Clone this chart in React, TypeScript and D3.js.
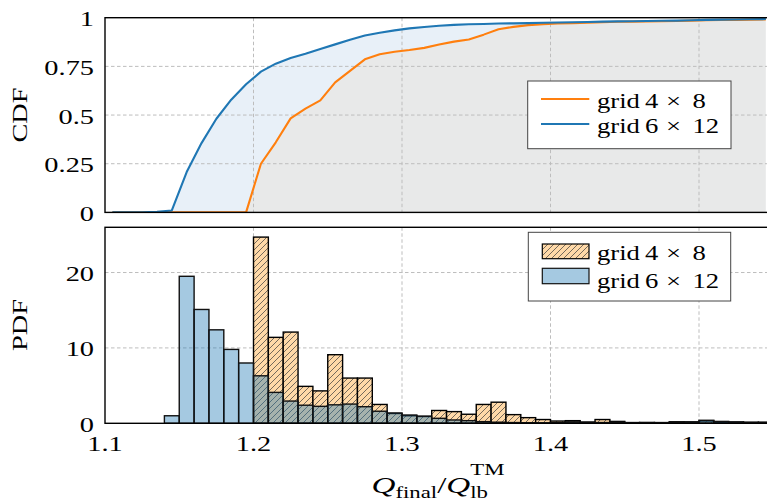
import React from "react";
import * as d3 from "d3";

// ---- data ----
const binStarts: number[] = d3.range(110, 155).map((v) => v / 100); // 1.10 .. 1.54, width 0.01
const binWidth = 0.01;

const pdfGrid4x8: number[] = [
  0, 0, 0, 0, 0, 0, 0, 0, 0, 0,
  24.7, 11.4, 12.1, 4.9, 4.3, 9.1, 6.0, 6.0, 2.5, 1.3,
  1.0, 0.9, 1.7, 1.55, 1.2, 2.5, 2.8, 1.15, 0.75, 0.5,
  0.3, 0.35, 0.15, 0.5, 0.25, 0.1, 0.1, 0.05, 0.2, 0.15,
  0.3, 0.15, 0.1, 0.1, 0.1,
];
const pdfGrid6x12: number[] = [
  0, 0, 0, 0, 1.0, 19.5, 15.1, 12.4, 9.8, 8.0,
  6.3, 4.1, 2.95, 2.4, 2.25, 2.45, 2.55, 2.2, 1.6, 1.37,
  1.1, 0.95, 0.66, 0.44, 0.35, 0.22, 0.15, 0.1, 0.08, 0.06,
  0.1, 0.2, 0.15, 0.1, 0.15, 0.05, 0.1, 0.1, 0.15, 0.2,
  0.4, 0.25, 0.2, 0.15, 0.15,
];
const cdfGrid4x8: number[] = [
  0, 0, 0, 0, 0, 0, 0, 0, 0, 0,
  0.25, 0.36, 0.483, 0.533, 0.575, 0.668, 0.727, 0.786, 0.812, 0.825,
  0.834, 0.845, 0.862, 0.877, 0.888, 0.913, 0.941, 0.953, 0.962, 0.967,
  0.970, 0.972, 0.974, 0.977, 0.979, 0.980, 0.981, 0.982, 0.983, 0.985,
  0.987, 0.988, 0.989, 0.990, 0.991,
];
const cdfGrid6x12: number[] = [
  0, 0, 0, 0.003, 0.01, 0.207, 0.356, 0.481, 0.579, 0.658,
  0.723, 0.764, 0.793, 0.815, 0.839, 0.863, 0.887, 0.909, 0.923, 0.935,
  0.945, 0.952, 0.959, 0.963, 0.966, 0.968, 0.970, 0.971, 0.972, 0.974,
  0.975, 0.977, 0.978, 0.980, 0.981, 0.982, 0.983, 0.984, 0.985, 0.987,
  0.989, 0.990, 0.991, 0.992, 0.993,
];
const xTicks: number[] = [1.1, 1.2, 1.3, 1.4, 1.5];
const xTickLabels: string[] = ["1.1", "1.2", "1.3", "1.4", "1.5"];
const cdfTicks: number[] = [0, 0.25, 0.5, 0.75, 1];
const cdfTickLabels: string[] = ["0", "0.25", "0.5", "0.75", "1"];
const pdfTicks: number[] = [0, 10, 20];
const pdfTickLabels: string[] = ["0", "10", "20"];
// legend label pieces: "grid a × b"
const seriesGridA: string[] = ["4", "6"];
const seriesGridB: string[] = ["8", "12"];

// ---- style ----
const ORANGE = "#ff7f0e";
const BLUE = "#1f77b4";
const FONT = "'Liberation Serif', 'Times New Roman', serif";
const FS = 21.5;
const SX = 1.32;
const GRID = "#bdbdbd";

const W = 767;
const H = 502;
const L = 105;
const R = 773.25;

const x = d3.scaleLinear().domain([1.1, 1.55]).range([L, R]);
const yTop = d3.scaleLinear().domain([0, 1]).range([212.4, 17.7]);
const yBot = d3.scaleLinear().domain([0, 26]).range([423.3, 227.3]);

function T(props: {
  x: number;
  y: number;
  anchor?: string;
  size?: number;
  sx?: number;
  rotate?: boolean;
  children: React.ReactNode;
}) {
  const { x: tx, y: ty, anchor = "start", size = FS, sx = SX, rotate = false, children } = props;
  const tr = rotate
    ? `translate(${tx},${ty}) rotate(-90) scale(${sx},1)`
    : `translate(${tx},${ty}) scale(${sx},1)`;
  return (
    <text transform={tr} textAnchor={anchor} fontSize={size} fontFamily={FONT} fill="#000">
      {children}
    </text>
  );
}

function LegendLabel(props: { y: number; i: number }) {
  const { y, i } = props;
  const ls = 20.5;
  const lx = 1.3;
  return (
    <g>
      <T x={597} y={y} size={ls} sx={lx}>grid</T>
      <T x={645} y={y} size={ls} sx={lx}>{seriesGridA[i]}</T>
      <T x={666} y={y} size={ls} sx={lx}>×</T>
      <T x={692.5} y={y} size={ls} sx={lx}>{seriesGridB[i]}</T>
    </g>
  );
}

export default function App() {
  const centers = binStarts.map((b) => b + binWidth / 2);
  const orangePts = centers.map((c, i) => [c, cdfGrid4x8[i]] as [number, number]);
  const bluePts = centers.map((c, i) => [c, cdfGrid6x12[i], cdfGrid4x8[i]] as [number, number, number]);

  const lineGen = d3
    .line<[number, number]>()
    .x((d) => x(d[0]))
    .y((d) => yTop(d[1]));
  const grayArea = d3
    .area<[number, number]>()
    .x((d) => x(d[0]))
    .y0(yTop(0))
    .y1((d) => yTop(d[1]));
  const blueArea = d3
    .area<[number, number, number]>()
    .x((d) => x(d[0]))
    .y0((d) => yTop(d[2]))
    .y1((d) => yTop(d[1]));
  const blueLine = d3
    .line<[number, number, number]>()
    .x((d) => x(d[0]))
    .y((d) => yTop(d[1]));

  const topY0 = yTop(1);
  const topY1 = yTop(0);
  const botY0 = yBot(26);
  const botY1 = yBot(0);

  return (
    <svg
      width={W}
      height={H}
      viewBox={`0 0 ${W} ${H}`}
      style={{ position: "absolute", left: 0, top: 0, background: "#fff" }}
    >
      <defs>
        <clipPath id="clipTop">
          <rect x={L} y={topY0} width={R - L} height={topY1 - topY0} />
        </clipPath>
        <clipPath id="clipBot">
          <rect x={L} y={botY0} width={R - L} height={botY1 - botY0} />
        </clipPath>
        <pattern id="hatch" patternUnits="userSpaceOnUse" width="6" height="6">
          <rect width="6" height="6" fill="#ffd9a8" />
          <path d="M0,6 L6,0 M-1.5,1.5 L1.5,-1.5 M4.5,7.5 L7.5,4.5" stroke="#3a3a3a" strokeWidth="0.7" />
        </pattern>
      </defs>

      {/* ---------- top panel (CDF) ---------- */}
      <g clipPath="url(#clipTop)">
        <path d={grayArea(orangePts) || ""} fill="#e8e9e9" />
        <path d={blueArea(bluePts) || ""} fill="#e8f0f8" />
        {xTicks.slice(1).map((t) => (
          <line key={"gx" + t} x1={x(t)} x2={x(t)} y1={topY0} y2={topY1} stroke={GRID} strokeDasharray="3.5,2.5" strokeWidth={1} />
        ))}
        {cdfTicks.slice(1, -1).map((t) => (
          <line key={"gy" + t} x1={L} x2={R} y1={yTop(t)} y2={yTop(t)} stroke={GRID} strokeDasharray="3.5,2.5" strokeWidth={1} />
        ))}
        <path d={lineGen(orangePts) || ""} fill="none" stroke={ORANGE} strokeWidth={2.1} strokeLinejoin="round" />
        <path d={blueLine(bluePts) || ""} fill="none" stroke={BLUE} strokeWidth={2.1} strokeLinejoin="round" />
      </g>
      <rect x={L} y={topY0} width={R - L} height={topY1 - topY0} fill="none" stroke="#000" strokeWidth={1.4} />
      {cdfTicks.map((t, i) => (
        <T key={"ty" + t} x={94} y={yTop(t) + 8.5} anchor="end">
          {cdfTickLabels[i]}
        </T>
      ))}
      <T x={27} y={115} anchor="middle" rotate>
        CDF
      </T>

      {/* top legend */}
      <g>
        <rect x={527.7} y={81} width={203.3} height={67.7} fill="#fff" stroke="#444" strokeWidth={1} />
        <line x1={541} x2={589.3} y1={99} y2={99} stroke={ORANGE} strokeWidth={2.1} />
        <line x1={541} x2={589.3} y1={124} y2={124} stroke={BLUE} strokeWidth={2.1} />
        <LegendLabel y={108} i={0} />
        <LegendLabel y={132.5} i={1} />
      </g>

      {/* ---------- bottom panel (PDF) ---------- */}
      <g clipPath="url(#clipBot)">
        {xTicks.slice(1).map((t) => (
          <line key={"bgx" + t} x1={x(t)} x2={x(t)} y1={botY0} y2={botY1} stroke={GRID} strokeDasharray="3.5,2.5" strokeWidth={1} />
        ))}
        {pdfTicks.slice(1).map((t) => (
          <line key={"bgy" + t} x1={L} x2={R} y1={yBot(t)} y2={yBot(t)} stroke={GRID} strokeDasharray="3.5,2.5" strokeWidth={1} />
        ))}
        {binStarts.map((b, i) =>
          pdfGrid4x8[i] > 0 ? (
            <rect
              key={"o" + i}
              x={x(b)}
              y={yBot(pdfGrid4x8[i])}
              width={x(b + binWidth) - x(b)}
              height={yBot(0) - yBot(pdfGrid4x8[i])}
              fill="url(#hatch)"
              stroke="#000"
              strokeWidth={1.4}
            />
          ) : null
        )}
        {binStarts.map((b, i) =>
          pdfGrid6x12[i] > 0 ? (
            <rect
              key={"b" + i}
              x={x(b)}
              y={yBot(pdfGrid6x12[i])}
              width={x(b + binWidth) - x(b)}
              height={yBot(0) - yBot(pdfGrid6x12[i])}
              fill="rgba(31,119,180,0.4)"
              stroke="#111"
              strokeWidth={1.4}
            />
          ) : null
        )}
      </g>
      <rect x={L} y={botY0} width={R - L} height={botY1 - botY0} fill="none" stroke="#000" strokeWidth={1.4} />
      {pdfTicks.map((t, i) => (
        <T key={"py" + t} x={94} y={yBot(t) + 8.5} anchor="end">
          {pdfTickLabels[i]}
        </T>
      ))}
      <T x={27} y={325} anchor="middle" rotate>
        PDF
      </T>

      {/* bottom legend */}
      <g>
        <rect x={528.3} y={232.3} width={202.4} height={68.7} fill="#fff" stroke="#444" strokeWidth={1} />
        <rect x={542.3} y={244} width={46.7} height={14.7} fill="url(#hatch)" stroke="#000" strokeWidth={1.2} />
        <rect x={542.3} y={268.3} width={46.7} height={15.4} fill="rgba(31,119,180,0.4)" stroke="#111" strokeWidth={1.2} />
        <LegendLabel y={260} i={0} />
        <LegendLabel y={288} i={1} />
      </g>

      {/* x ticks */}
      {xTicks.map((t, i) => (
        <T key={"xt" + t} x={x(t)} y={451} anchor="middle">
          {xTickLabels[i]}
        </T>
      ))}

      {/* x label */}
      <text
        transform={`translate(438,493) scale(1.38,1)`}
        textAnchor="middle"
        fontFamily={FONT}
        fontSize={24}
        fill="#000"
      >
        <tspan fontStyle="italic">Q</tspan>
        <tspan fontSize={16.5} dy={5}>final</tspan>
        <tspan dy={-5}>/</tspan>
        <tspan fontStyle="italic">Q</tspan>
        <tspan fontSize={16.5} dy={5}>lb</tspan>
        <tspan fontSize={16.5} dx={-12.8} dy={-23}>TM</tspan>
      </text>
    </svg>
  );
}
